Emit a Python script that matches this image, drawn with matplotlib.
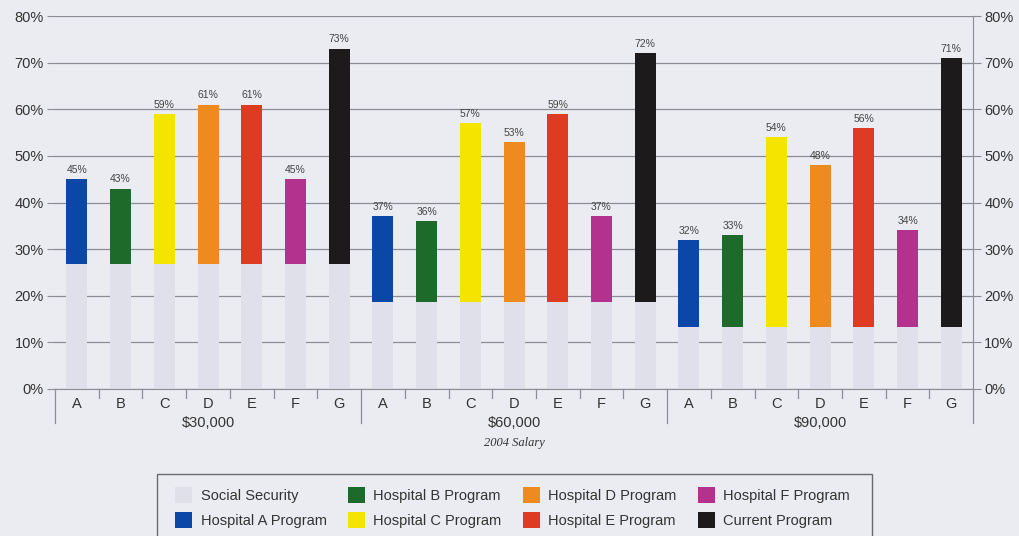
import numpy as np
import matplotlib.pyplot as plt
from matplotlib.patches import Patch, Rectangle
import matplotlib.transforms as mtransforms

# salary groups and the hospital programs compared within each group
salary_groups = ['$30,000', '$60,000', '$90,000']
program_letters = ['A', 'B', 'C', 'D', 'E', 'F', 'G']

# social security share (base of every bar) per salary group, in percent
social_security = [26.8, 18.7, 13.4]

# total replacement (social security + program) per group, in percent
totals_30k = [45, 43, 59, 61, 61, 45, 73]
totals_60k = [37, 36, 57, 53, 59, 37, 72]
totals_90k = [32, 33, 54, 48, 56, 34, 71]

series_names = ['Social Security', 'Hospital A Program', 'Hospital B Program',
                'Hospital C Program', 'Hospital D Program', 'Hospital E Program',
                'Hospital F Program', 'Current Program']
colors = ['#e0e0eb', '#0b47a6', '#1d6a2a', '#f4e400', '#ef8a1e',
          '#de3b23', '#b3328d', '#1c1a1a']

bg = '#ebebf2'
text_col = '#333333'
grid_col = '#8c8c94'

plt.rcParams['font.family'] = ['Liberation Sans', 'DejaVu Sans']

fig = plt.figure(figsize=(10.19, 5.36), dpi=100, facecolor=bg)
ax = fig.add_axes([0.054, 0.2743, 0.901, 0.6958], facecolor=bg)

all_totals = [totals_30k, totals_60k, totals_90k]
n = len(program_letters)
bar_w = 0.48

for g, totals in enumerate(all_totals):
    base = social_security[g]
    xs = np.arange(n) + g * n
    ax.bar(xs, [base] * n, width=bar_w, color=colors[0], zorder=2)
    for i, (x, tot) in enumerate(zip(xs, totals)):
        ax.bar(x, tot - base, bottom=base, width=bar_w, color=colors[i + 1], zorder=2)
        ax.annotate(f'{tot}%', (x, tot), xytext=(0, 3), textcoords='offset points',
                    ha='center', va='bottom', fontsize=7.5, color='#444444')

ax.set_xlim(-0.5, 3 * n - 0.5)
ax.set_ylim(0, 80)
ax.set_yticks(np.arange(0, 81, 10))
ax.set_yticklabels([f'{v}%' for v in range(0, 81, 10)])
ax.yaxis.grid(True, color=grid_col, linewidth=0.9, zorder=1)
ax.tick_params(axis='y', which='both', left=True, right=True, labelleft=True,
               labelright=True, length=6, color=grid_col, labelsize=10.5,
               labelcolor=text_col, pad=2)

for side in ['top', 'left']:
    ax.spines[side].set_visible(False)
ax.spines['right'].set_color(grid_col)
ax.spines['bottom'].set_color(grid_col)

# category letters below each bar
ax.set_xticks(np.arange(3 * n))
ax.set_xticklabels(program_letters * 3)
ax.tick_params(axis='x', length=0, labelsize=10.5, labelcolor=text_col, pad=6)

# separator ticks between categories and between salary groups
trans = mtransforms.blended_transform_factory(ax.transData, ax.transAxes)
for b in np.arange(-0.5, 3 * n, 1.0):
    if round(b + 0.5) % n == 0:
        ax.plot([b, b], [0, -0.092], transform=trans, color=grid_col,
                linewidth=0.9, clip_on=False)
    else:
        ax.plot([b, b], [0, -0.025], transform=trans, color=grid_col,
                linewidth=0.9, clip_on=False)

for g, name in enumerate(salary_groups):
    ax.text(g * n + (n - 1) / 2, -0.092, name, transform=trans, ha='center',
            va='center', fontsize=10.5, color=text_col)

ax.text(n + (n - 1) / 2, -0.145, '2004 Salary', transform=trans, ha='center',
        va='center', fontsize=9, color=text_col, style='italic',
        family='Liberation Serif')

# legend box runs off the bottom edge of the page
fig.add_artist(Rectangle((0.154, -0.05), 0.7017, 0.1657, transform=fig.transFigure,
                         facecolor=bg, edgecolor='#6a6a70', linewidth=1.0))

handles = [Patch(facecolor=c, edgecolor='none') for c in colors]
leg = fig.legend(handles, series_names, ncol=4, loc='upper left',
                 bbox_to_anchor=(0.172, 0.091), frameon=False, fontsize=10.5,
                 handlelength=1.15, handleheight=1.3, columnspacing=1.45,
                 handletextpad=0.6, labelspacing=0.6, borderpad=0,
                 borderaxespad=0, labelcolor=text_col)

fig.savefig('out.png', dpi=100, facecolor=bg)
